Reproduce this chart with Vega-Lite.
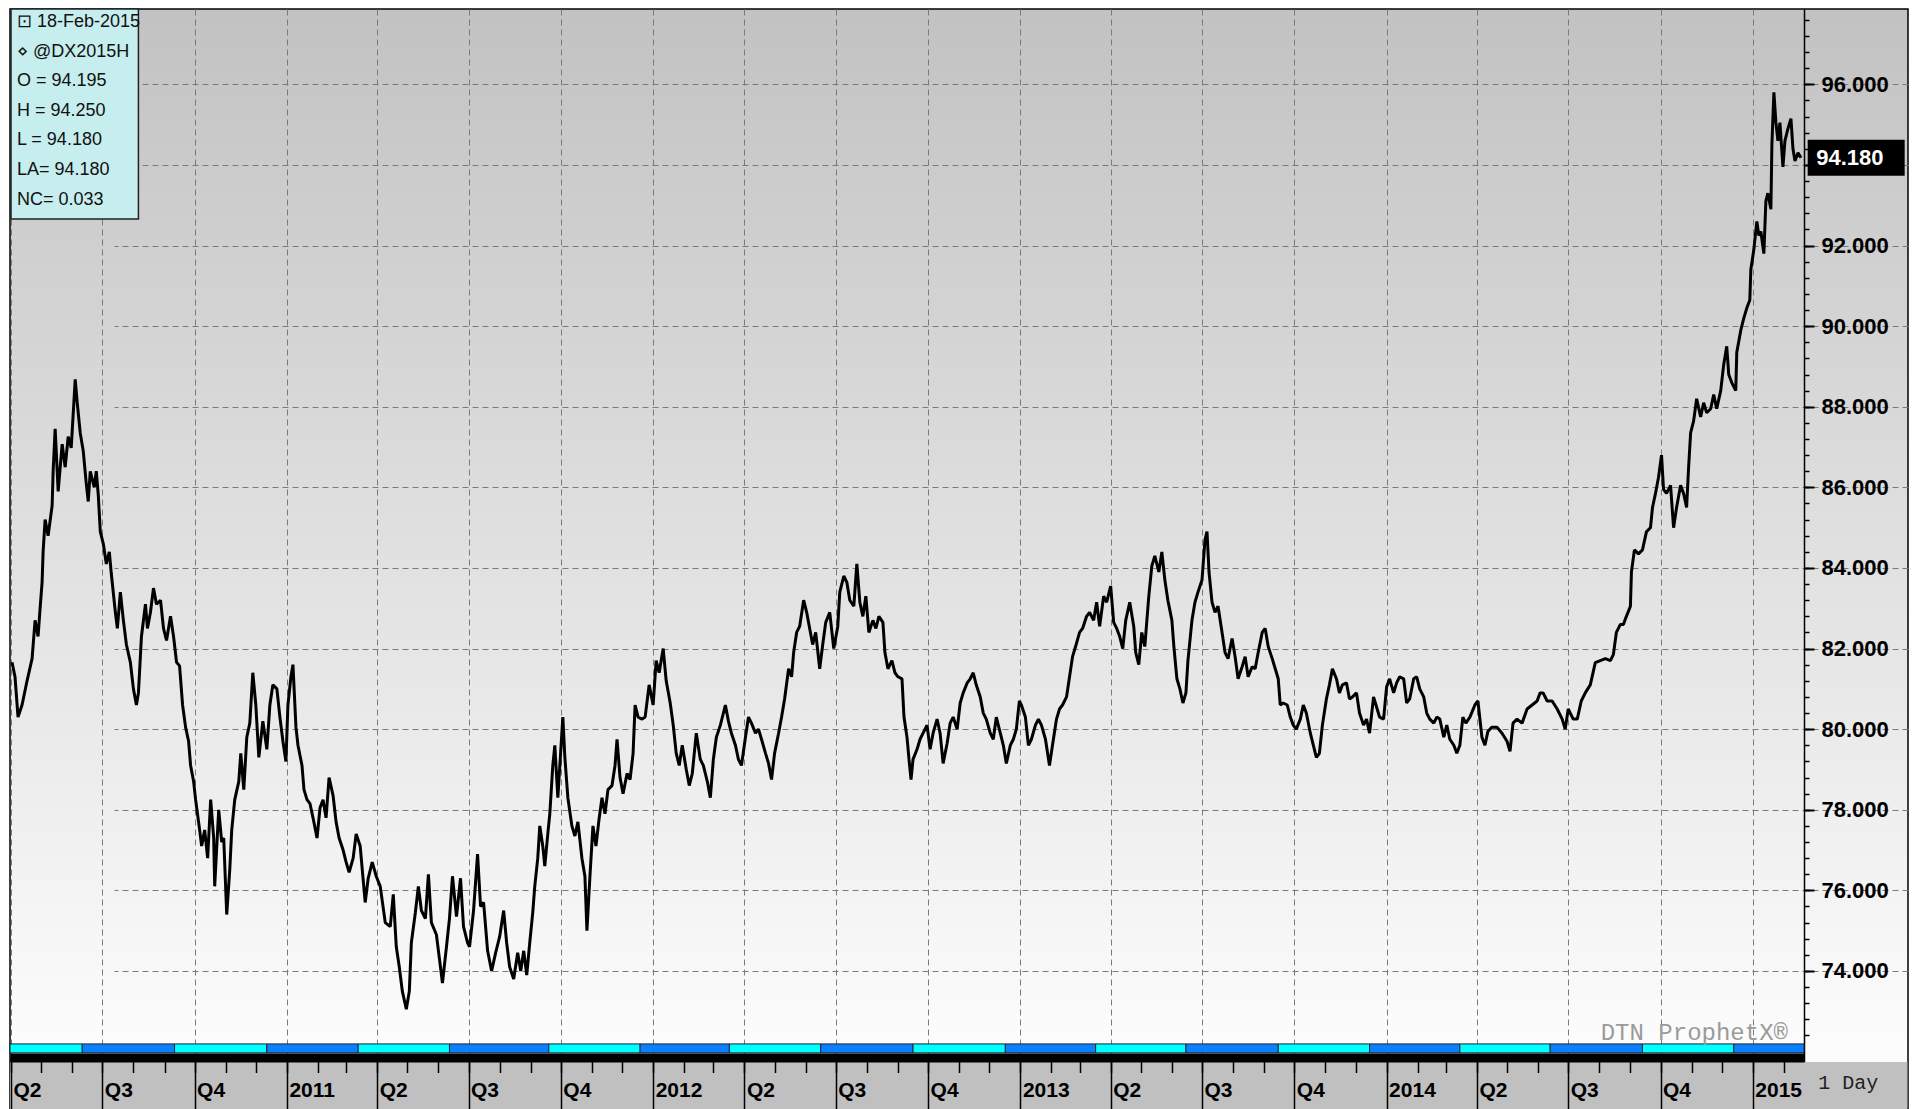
{
  "$schema": "https://vega.github.io/schema/vega-lite/v6.json",
  "background": "white",
  "padding": {"left": 10, "top": 9, "right": 11, "bottom": 0},
  "autosize": {"type": "none"},
  "width": 1898,
  "height": 1100,
  "config": {
    "view": {"stroke": "black", "strokeWidth": 1.5},
    "font": "Liberation Sans, Arial, sans-serif"
  },
  "view": {
    "fill": {"gradient": "linear", "x1": 0, "y1": 0, "x2": 0, "y2": 1, "stops": [{"offset": 0, "color": "#c2c2c2"}, {"offset": 0.94, "color": "#fcfcfc"}, {"offset": 1, "color": "#fcfcfc"}]},
    "stroke": "black",
    "strokeWidth": 1.5
  },
  "datasets": {
    "prices": [
      {"date":"2010-04-02","price":81.66},{"date":"2010-04-05","price":81.3},{"date":"2010-04-08","price":80.3},{"date":"2010-04-12","price":80.6},{"date":"2010-04-17","price":81.2},{"date":"2010-04-22","price":81.75},{"date":"2010-04-25","price":82.7},{"date":"2010-04-28","price":82.3},{"date":"2010-04-30","price":83.0},{"date":"2010-05-02","price":83.65},{"date":"2010-05-03","price":84.4},{"date":"2010-05-05","price":85.2},{"date":"2010-05-08","price":84.8},{"date":"2010-05-12","price":85.55},{"date":"2010-05-13","price":86.4},{"date":"2010-05-15","price":87.45},{"date":"2010-05-18","price":85.9},{"date":"2010-05-22","price":87.07},{"date":"2010-05-25","price":86.5},{"date":"2010-05-28","price":87.26},{"date":"2010-05-31","price":86.98},{"date":"2010-06-04","price":88.68},{"date":"2010-06-06","price":88.1},{"date":"2010-06-09","price":87.35},{"date":"2010-06-12","price":86.9},{"date":"2010-06-15","price":86.1},{"date":"2010-06-17","price":85.65},{"date":"2010-06-19","price":86.4},{"date":"2010-06-23","price":86.0},{"date":"2010-06-25","price":86.4},{"date":"2010-06-27","price":85.8},{"date":"2010-06-29","price":84.9},
      {"date":"2010-07-02","price":84.6},{"date":"2010-07-05","price":84.1},{"date":"2010-07-08","price":84.4},{"date":"2010-07-10","price":83.85},{"date":"2010-07-14","price":82.9},{"date":"2010-07-16","price":82.5},{"date":"2010-07-19","price":83.4},{"date":"2010-07-22","price":82.7},{"date":"2010-07-25","price":82.1},{"date":"2010-07-29","price":81.65},{"date":"2010-08-01","price":81.0},{"date":"2010-08-04","price":80.6},{"date":"2010-08-06","price":80.9},{"date":"2010-08-09","price":82.3},{"date":"2010-08-13","price":83.1},{"date":"2010-08-15","price":82.5},{"date":"2010-08-18","price":82.9},{"date":"2010-08-21","price":83.5},{"date":"2010-08-24","price":83.1},{"date":"2010-08-28","price":83.2},{"date":"2010-08-31","price":82.5},{"date":"2010-09-03","price":82.2},{"date":"2010-09-07","price":82.8},{"date":"2010-09-10","price":82.3},{"date":"2010-09-13","price":81.66},{"date":"2010-09-16","price":81.57},{"date":"2010-09-19","price":80.6},{"date":"2010-09-22","price":80.05},{"date":"2010-09-25","price":79.7},{"date":"2010-09-27","price":79.1},{"date":"2010-09-30","price":78.7},
      {"date":"2010-10-02","price":78.25},{"date":"2010-10-06","price":77.5},{"date":"2010-10-08","price":77.1},{"date":"2010-10-11","price":77.5},{"date":"2010-10-14","price":76.8},{"date":"2010-10-17","price":78.25},{"date":"2010-10-20","price":77.3},{"date":"2010-10-21","price":76.1},{"date":"2010-10-25","price":78.0},{"date":"2010-10-28","price":77.2},{"date":"2010-10-30","price":77.3},{"date":"2010-11-02","price":75.4},{"date":"2010-11-05","price":76.5},{"date":"2010-11-07","price":77.5},{"date":"2010-11-10","price":78.25},{"date":"2010-11-14","price":78.7},{"date":"2010-11-16","price":79.4},{"date":"2010-11-19","price":78.5},{"date":"2010-11-22","price":79.8},{"date":"2010-11-25","price":80.15},{"date":"2010-11-28","price":81.4},{"date":"2010-12-01","price":80.6},{"date":"2010-12-04","price":79.3},{"date":"2010-12-08","price":80.2},{"date":"2010-12-12","price":79.5},{"date":"2010-12-15","price":80.6},{"date":"2010-12-18","price":81.1},{"date":"2010-12-22","price":81.0},{"date":"2010-12-25","price":80.3},{"date":"2010-12-28","price":79.7},{"date":"2010-12-31","price":79.2},
      {"date":"2011-01-02","price":80.6},{"date":"2011-01-05","price":81.3},{"date":"2011-01-07","price":81.6},{"date":"2011-01-10","price":80.05},{"date":"2011-01-12","price":79.6},{"date":"2011-01-16","price":79.1},{"date":"2011-01-18","price":78.5},{"date":"2011-01-21","price":78.25},{"date":"2011-01-24","price":78.15},{"date":"2011-01-27","price":77.8},{"date":"2011-01-31","price":77.3},{"date":"2011-02-03","price":78.05},{"date":"2011-02-06","price":78.25},{"date":"2011-02-09","price":77.8},{"date":"2011-02-12","price":78.8},{"date":"2011-02-16","price":78.35},{"date":"2011-02-19","price":77.7},{"date":"2011-02-22","price":77.3},{"date":"2011-02-26","price":77.0},{"date":"2011-03-01","price":76.7},{"date":"2011-03-04","price":76.45},{"date":"2011-03-08","price":76.8},{"date":"2011-03-11","price":77.4},{"date":"2011-03-15","price":77.1},{"date":"2011-03-20","price":75.7},{"date":"2011-03-23","price":76.3},{"date":"2011-03-27","price":76.7},{"date":"2011-03-31","price":76.35},
      {"date":"2011-04-04","price":76.1},{"date":"2011-04-09","price":75.2},{"date":"2011-04-14","price":75.1},{"date":"2011-04-17","price":75.9},{"date":"2011-04-20","price":74.6},{"date":"2011-04-23","price":74.1},{"date":"2011-04-26","price":73.5},{"date":"2011-04-30","price":73.05},{"date":"2011-05-03","price":73.5},{"date":"2011-05-05","price":74.7},{"date":"2011-05-09","price":75.45},{"date":"2011-05-12","price":76.1},{"date":"2011-05-15","price":75.5},{"date":"2011-05-19","price":75.3},{"date":"2011-05-22","price":76.4},{"date":"2011-05-25","price":75.2},{"date":"2011-05-30","price":74.9},{"date":"2011-06-02","price":74.3},{"date":"2011-06-05","price":73.7},{"date":"2011-06-09","price":74.6},{"date":"2011-06-12","price":75.3},{"date":"2011-06-15","price":76.35},{"date":"2011-06-19","price":75.35},{"date":"2011-06-23","price":76.3},{"date":"2011-06-26","price":75.1},{"date":"2011-06-30","price":74.7},
      {"date":"2011-07-02","price":74.6},{"date":"2011-07-06","price":75.5},{"date":"2011-07-10","price":76.9},{"date":"2011-07-13","price":75.6},{"date":"2011-07-16","price":75.7},{"date":"2011-07-20","price":74.5},{"date":"2011-07-24","price":74.0},{"date":"2011-07-28","price":74.45},{"date":"2011-08-01","price":74.85},{"date":"2011-08-05","price":75.5},{"date":"2011-08-08","price":74.7},{"date":"2011-08-11","price":74.1},{"date":"2011-08-15","price":73.8},{"date":"2011-08-19","price":74.45},{"date":"2011-08-22","price":74.0},{"date":"2011-08-25","price":74.5},{"date":"2011-08-28","price":73.9},{"date":"2011-08-31","price":74.7},{"date":"2011-09-03","price":75.45},{"date":"2011-09-05","price":76.1},{"date":"2011-09-08","price":76.8},{"date":"2011-09-10","price":77.6},{"date":"2011-09-13","price":77.1},{"date":"2011-09-15","price":76.6},{"date":"2011-09-18","price":77.4},{"date":"2011-09-20","price":77.9},{"date":"2011-09-23","price":79.1},{"date":"2011-09-25","price":79.6},{"date":"2011-09-28","price":78.3},{"date":"2011-09-30","price":79.1},
      {"date":"2011-10-03","price":80.3},{"date":"2011-10-05","price":79.3},{"date":"2011-10-08","price":78.3},{"date":"2011-10-12","price":77.6},{"date":"2011-10-15","price":77.35},{"date":"2011-10-18","price":77.7},{"date":"2011-10-22","price":76.8},{"date":"2011-10-25","price":76.35},{"date":"2011-10-27","price":75.0},{"date":"2011-10-30","price":76.35},{"date":"2011-11-02","price":77.6},{"date":"2011-11-05","price":77.1},{"date":"2011-11-08","price":77.75},{"date":"2011-11-11","price":78.3},{"date":"2011-11-14","price":77.9},{"date":"2011-11-17","price":78.5},{"date":"2011-11-21","price":78.6},{"date":"2011-11-24","price":79.1},{"date":"2011-11-26","price":79.75},{"date":"2011-11-29","price":78.8},{"date":"2011-12-02","price":78.4},{"date":"2011-12-06","price":78.9},{"date":"2011-12-09","price":78.75},{"date":"2011-12-12","price":79.4},{"date":"2011-12-14","price":80.6},{"date":"2011-12-17","price":80.3},{"date":"2011-12-21","price":80.25},{"date":"2011-12-24","price":80.3},{"date":"2011-12-28","price":81.1},
      {"date":"2012-01-01","price":80.6},{"date":"2012-01-04","price":81.7},{"date":"2012-01-07","price":81.4},{"date":"2012-01-11","price":82.0},{"date":"2012-01-14","price":81.2},{"date":"2012-01-18","price":80.65},{"date":"2012-01-21","price":80.1},{"date":"2012-01-24","price":79.4},{"date":"2012-01-27","price":79.1},{"date":"2012-01-30","price":79.6},{"date":"2012-02-03","price":79.0},{"date":"2012-02-06","price":78.6},{"date":"2012-02-09","price":78.9},{"date":"2012-02-13","price":79.9},{"date":"2012-02-17","price":79.25},{"date":"2012-02-20","price":79.1},{"date":"2012-02-24","price":78.7},{"date":"2012-02-27","price":78.3},{"date":"2012-03-01","price":79.25},{"date":"2012-03-04","price":79.8},{"date":"2012-03-08","price":80.1},{"date":"2012-03-13","price":80.6},{"date":"2012-03-16","price":80.2},{"date":"2012-03-19","price":79.9},{"date":"2012-03-23","price":79.6},{"date":"2012-03-26","price":79.25},{"date":"2012-03-29","price":79.1},
      {"date":"2012-04-02","price":79.8},{"date":"2012-04-05","price":80.3},{"date":"2012-04-08","price":80.15},{"date":"2012-04-12","price":79.9},{"date":"2012-04-15","price":80.0},{"date":"2012-04-18","price":79.75},{"date":"2012-04-22","price":79.4},{"date":"2012-04-25","price":79.15},{"date":"2012-04-28","price":78.75},{"date":"2012-05-01","price":79.4},{"date":"2012-05-05","price":79.9},{"date":"2012-05-08","price":80.3},{"date":"2012-05-11","price":80.75},{"date":"2012-05-15","price":81.5},{"date":"2012-05-18","price":81.3},{"date":"2012-05-20","price":81.9},{"date":"2012-05-23","price":82.4},{"date":"2012-05-26","price":82.55},{"date":"2012-05-30","price":83.2},{"date":"2012-06-02","price":82.9},{"date":"2012-06-05","price":82.5},{"date":"2012-06-08","price":82.1},{"date":"2012-06-11","price":82.4},{"date":"2012-06-15","price":81.5},{"date":"2012-06-18","price":82.1},{"date":"2012-06-21","price":82.65},{"date":"2012-06-25","price":82.9},{"date":"2012-06-29","price":82.0},
      {"date":"2012-07-03","price":82.55},{"date":"2012-07-05","price":83.4},{"date":"2012-07-09","price":83.8},{"date":"2012-07-12","price":83.65},{"date":"2012-07-15","price":83.2},{"date":"2012-07-19","price":83.05},{"date":"2012-07-22","price":84.1},{"date":"2012-07-25","price":83.15},{"date":"2012-07-28","price":82.8},{"date":"2012-07-31","price":83.3},{"date":"2012-08-03","price":82.4},{"date":"2012-08-07","price":82.7},{"date":"2012-08-10","price":82.5},{"date":"2012-08-13","price":82.8},{"date":"2012-08-17","price":82.65},{"date":"2012-08-19","price":81.9},{"date":"2012-08-22","price":81.5},{"date":"2012-08-26","price":81.7},{"date":"2012-08-29","price":81.4},{"date":"2012-09-01","price":81.3},{"date":"2012-09-05","price":81.25},{"date":"2012-09-07","price":80.3},{"date":"2012-09-10","price":79.8},{"date":"2012-09-12","price":79.25},{"date":"2012-09-14","price":78.75},{"date":"2012-09-16","price":79.25},{"date":"2012-09-20","price":79.5},{"date":"2012-09-23","price":79.75},{"date":"2012-09-26","price":79.9},{"date":"2012-09-30","price":80.1},
      {"date":"2012-10-03","price":79.5},{"date":"2012-10-06","price":79.9},{"date":"2012-10-10","price":80.25},{"date":"2012-10-13","price":79.9},{"date":"2012-10-16","price":79.15},{"date":"2012-10-20","price":79.65},{"date":"2012-10-23","price":80.15},{"date":"2012-10-26","price":80.3},{"date":"2012-10-30","price":80.0},{"date":"2012-11-02","price":80.65},{"date":"2012-11-05","price":80.9},{"date":"2012-11-09","price":81.15},{"date":"2012-11-12","price":81.25},{"date":"2012-11-15","price":81.4},{"date":"2012-11-18","price":81.1},{"date":"2012-11-22","price":80.8},{"date":"2012-11-25","price":80.4},{"date":"2012-11-28","price":80.25},{"date":"2012-12-02","price":79.9},{"date":"2012-12-05","price":79.75},{"date":"2012-12-08","price":80.3},{"date":"2012-12-12","price":79.9},{"date":"2012-12-15","price":79.6},{"date":"2012-12-18","price":79.15},{"date":"2012-12-22","price":79.6},{"date":"2012-12-25","price":79.75},{"date":"2012-12-28","price":80.0},{"date":"2012-12-31","price":80.7},
      {"date":"2013-01-02","price":80.6},{"date":"2013-01-06","price":80.3},{"date":"2013-01-09","price":79.6},{"date":"2013-01-12","price":79.75},{"date":"2013-01-16","price":80.1},{"date":"2013-01-19","price":80.25},{"date":"2013-01-22","price":80.1},{"date":"2013-01-26","price":79.75},{"date":"2013-01-30","price":79.1},{"date":"2013-02-02","price":79.6},{"date":"2013-02-06","price":80.25},{"date":"2013-02-09","price":80.5},{"date":"2013-02-12","price":80.6},{"date":"2013-02-16","price":80.8},{"date":"2013-02-19","price":81.3},{"date":"2013-02-22","price":81.8},{"date":"2013-02-25","price":82.05},{"date":"2013-03-01","price":82.4},{"date":"2013-03-04","price":82.5},{"date":"2013-03-08","price":82.8},{"date":"2013-03-11","price":82.9},{"date":"2013-03-15","price":82.7},{"date":"2013-03-18","price":83.15},{"date":"2013-03-21","price":82.55},{"date":"2013-03-25","price":83.3},{"date":"2013-03-28","price":83.15},
      {"date":"2013-04-01","price":83.55},{"date":"2013-04-04","price":82.65},{"date":"2013-04-07","price":82.5},{"date":"2013-04-10","price":82.3},{"date":"2013-04-13","price":82.0},{"date":"2013-04-16","price":82.7},{"date":"2013-04-20","price":83.15},{"date":"2013-04-24","price":82.55},{"date":"2013-04-26","price":81.9},{"date":"2013-04-29","price":81.6},{"date":"2013-05-02","price":82.4},{"date":"2013-05-05","price":82.05},{"date":"2013-05-09","price":83.3},{"date":"2013-05-12","price":84.05},{"date":"2013-05-15","price":84.3},{"date":"2013-05-19","price":83.9},{"date":"2013-05-22","price":84.4},{"date":"2013-05-25","price":83.7},{"date":"2013-05-28","price":83.2},{"date":"2013-06-01","price":82.7},{"date":"2013-06-03","price":82.05},{"date":"2013-06-06","price":81.25},{"date":"2013-06-09","price":81.0},{"date":"2013-06-12","price":80.65},{"date":"2013-06-15","price":80.9},{"date":"2013-06-17","price":81.7},{"date":"2013-06-21","price":82.7},{"date":"2013-06-24","price":83.15},{"date":"2013-06-27","price":83.4},
      {"date":"2013-07-01","price":83.7},{"date":"2013-07-04","price":84.7},{"date":"2013-07-06","price":84.9},{"date":"2013-07-08","price":83.9},{"date":"2013-07-11","price":83.15},{"date":"2013-07-14","price":82.9},{"date":"2013-07-17","price":83.05},{"date":"2013-07-21","price":82.4},{"date":"2013-07-24","price":81.9},{"date":"2013-07-27","price":81.75},{"date":"2013-07-31","price":82.25},{"date":"2013-08-03","price":81.8},{"date":"2013-08-06","price":81.25},{"date":"2013-08-10","price":81.55},{"date":"2013-08-13","price":81.8},{"date":"2013-08-16","price":81.3},{"date":"2013-08-20","price":81.55},{"date":"2013-08-23","price":81.5},{"date":"2013-08-26","price":81.9},{"date":"2013-08-30","price":82.4},{"date":"2013-09-02","price":82.5},{"date":"2013-09-05","price":82.05},{"date":"2013-09-09","price":81.75},{"date":"2013-09-12","price":81.5},{"date":"2013-09-15","price":81.25},{"date":"2013-09-17","price":80.6},{"date":"2013-09-20","price":80.65},{"date":"2013-09-24","price":80.6},{"date":"2013-09-27","price":80.3},{"date":"2013-09-30","price":80.1},
      {"date":"2013-10-03","price":80.0},{"date":"2013-10-07","price":80.25},{"date":"2013-10-10","price":80.6},{"date":"2013-10-13","price":80.4},{"date":"2013-10-17","price":79.9},{"date":"2013-10-20","price":79.6},{"date":"2013-10-23","price":79.3},{"date":"2013-10-26","price":79.4},{"date":"2013-10-29","price":80.1},{"date":"2013-11-02","price":80.75},{"date":"2013-11-05","price":81.1},{"date":"2013-11-08","price":81.5},{"date":"2013-11-12","price":81.25},{"date":"2013-11-15","price":80.9},{"date":"2013-11-18","price":81.1},{"date":"2013-11-22","price":81.15},{"date":"2013-11-25","price":80.75},{"date":"2013-11-28","price":80.8},{"date":"2013-12-02","price":80.9},{"date":"2013-12-05","price":80.4},{"date":"2013-12-09","price":80.1},{"date":"2013-12-12","price":80.25},{"date":"2013-12-15","price":79.9},{"date":"2013-12-19","price":80.8},{"date":"2013-12-22","price":80.55},{"date":"2013-12-25","price":80.3},{"date":"2013-12-29","price":80.25},
      {"date":"2014-01-01","price":81.05},{"date":"2014-01-04","price":81.25},{"date":"2014-01-08","price":80.9},{"date":"2014-01-11","price":81.15},{"date":"2014-01-14","price":81.3},{"date":"2014-01-18","price":81.25},{"date":"2014-01-21","price":80.65},{"date":"2014-01-24","price":80.75},{"date":"2014-01-28","price":81.25},{"date":"2014-01-31","price":81.3},{"date":"2014-02-03","price":81.0},{"date":"2014-02-07","price":80.8},{"date":"2014-02-10","price":80.4},{"date":"2014-02-13","price":80.25},{"date":"2014-02-17","price":80.15},{"date":"2014-02-20","price":80.3},{"date":"2014-02-23","price":80.25},{"date":"2014-02-27","price":79.8},{"date":"2014-03-02","price":80.1},{"date":"2014-03-05","price":79.75},{"date":"2014-03-09","price":79.6},{"date":"2014-03-12","price":79.4},{"date":"2014-03-15","price":79.6},{"date":"2014-03-18","price":80.3},{"date":"2014-03-21","price":80.15},{"date":"2014-03-25","price":80.3},{"date":"2014-03-30","price":80.6},
      {"date":"2014-04-02","price":80.7},{"date":"2014-04-06","price":79.8},{"date":"2014-04-09","price":79.6},{"date":"2014-04-12","price":79.95},{"date":"2014-04-16","price":80.05},{"date":"2014-04-21","price":80.05},{"date":"2014-04-26","price":79.9},{"date":"2014-05-01","price":79.7},{"date":"2014-05-04","price":79.45},{"date":"2014-05-07","price":80.15},{"date":"2014-05-11","price":80.25},{"date":"2014-05-16","price":80.15},{"date":"2014-05-21","price":80.5},{"date":"2014-05-26","price":80.6},{"date":"2014-05-31","price":80.7},{"date":"2014-06-03","price":80.9},{"date":"2014-06-06","price":80.9},{"date":"2014-06-10","price":80.7},{"date":"2014-06-15","price":80.7},{"date":"2014-06-20","price":80.5},{"date":"2014-06-25","price":80.25},{"date":"2014-06-28","price":80.0},
      {"date":"2014-07-01","price":80.5},{"date":"2014-07-06","price":80.25},{"date":"2014-07-10","price":80.25},{"date":"2014-07-14","price":80.7},{"date":"2014-07-18","price":80.9},{"date":"2014-07-23","price":81.1},{"date":"2014-07-28","price":81.65},{"date":"2014-08-02","price":81.7},{"date":"2014-08-07","price":81.75},{"date":"2014-08-12","price":81.7},{"date":"2014-08-15","price":81.85},{"date":"2014-08-18","price":82.4},{"date":"2014-08-22","price":82.6},{"date":"2014-08-25","price":82.6},{"date":"2014-08-28","price":82.8},{"date":"2014-09-01","price":83.05},{"date":"2014-09-02","price":83.9},{"date":"2014-09-05","price":84.45},{"date":"2014-09-09","price":84.35},{"date":"2014-09-13","price":84.45},{"date":"2014-09-17","price":84.9},{"date":"2014-09-21","price":85.0},{"date":"2014-09-23","price":85.5},{"date":"2014-09-26","price":85.85},{"date":"2014-09-29","price":86.25},
      {"date":"2014-10-02","price":86.8},{"date":"2014-10-04","price":85.95},{"date":"2014-10-07","price":85.85},{"date":"2014-10-11","price":86.05},{"date":"2014-10-14","price":85.0},{"date":"2014-10-17","price":85.5},{"date":"2014-10-21","price":86.05},{"date":"2014-10-24","price":85.85},{"date":"2014-10-27","price":85.5},{"date":"2014-10-29","price":86.5},{"date":"2014-10-31","price":87.35},{"date":"2014-11-03","price":87.65},{"date":"2014-11-06","price":88.2},{"date":"2014-11-10","price":87.75},{"date":"2014-11-13","price":88.1},{"date":"2014-11-16","price":87.85},{"date":"2014-11-20","price":87.95},{"date":"2014-11-23","price":88.3},{"date":"2014-11-26","price":87.95},{"date":"2014-11-30","price":88.4},{"date":"2014-12-03","price":89.05},{"date":"2014-12-06","price":89.5},{"date":"2014-12-08","price":88.8},{"date":"2014-12-11","price":88.6},{"date":"2014-12-15","price":88.4},{"date":"2014-12-16","price":89.35},{"date":"2014-12-20","price":89.9},{"date":"2014-12-23","price":90.2},{"date":"2014-12-26","price":90.45},{"date":"2014-12-29","price":90.65},{"date":"2014-12-30","price":91.4},
      {"date":"2015-01-02","price":91.9},{"date":"2015-01-05","price":92.6},{"date":"2015-01-07","price":92.25},{"date":"2015-01-09","price":92.35},{"date":"2015-01-12","price":91.8},{"date":"2015-01-14","price":93.1},{"date":"2015-01-16","price":93.3},{"date":"2015-01-19","price":92.9},{"date":"2015-01-20","price":94.5},{"date":"2015-01-22","price":95.8},{"date":"2015-01-24","price":95.05},{"date":"2015-01-26","price":94.6},{"date":"2015-01-28","price":95.05},{"date":"2015-01-31","price":93.95},{"date":"2015-02-02","price":94.6},{"date":"2015-02-05","price":94.9},{"date":"2015-02-08","price":95.15},{"date":"2015-02-10","price":94.4},{"date":"2015-02-12","price":94.1},{"date":"2015-02-15","price":94.3},{"date":"2015-02-18","price":94.18}
    ],
    "contracts": [
      {"contract":"DXM10","month":"M","start":"2010-03-31","end":"2010-06-11"},
      {"contract":"DXU10","month":"U","start":"2010-06-11","end":"2010-09-11"},
      {"contract":"DXZ10","month":"Z","start":"2010-09-11","end":"2010-12-12"},
      {"contract":"DXH11","month":"H","start":"2010-12-12","end":"2011-03-13"},
      {"contract":"DXM11","month":"M","start":"2011-03-13","end":"2011-06-12"},
      {"contract":"DXU11","month":"U","start":"2011-06-12","end":"2011-09-19"},
      {"contract":"DXZ11","month":"Z","start":"2011-09-19","end":"2011-12-19"},
      {"contract":"DXH12","month":"H","start":"2011-12-19","end":"2012-03-17"},
      {"contract":"DXM12","month":"M","start":"2012-03-17","end":"2012-06-16"},
      {"contract":"DXU12","month":"U","start":"2012-06-16","end":"2012-09-16"},
      {"contract":"DXZ12","month":"Z","start":"2012-09-16","end":"2012-12-17"},
      {"contract":"DXH13","month":"H","start":"2012-12-17","end":"2013-03-17"},
      {"contract":"DXM13","month":"M","start":"2013-03-17","end":"2013-06-15"},
      {"contract":"DXU13","month":"U","start":"2013-06-15","end":"2013-09-15"},
      {"contract":"DXZ13","month":"Z","start":"2013-09-15","end":"2013-12-15"},
      {"contract":"DXH14","month":"H","start":"2013-12-15","end":"2014-03-15"},
      {"contract":"DXM14","month":"M","start":"2014-03-15","end":"2014-06-13"},
      {"contract":"DXU14","month":"U","start":"2014-06-13","end":"2014-09-13"},
      {"contract":"DXZ14","month":"Z","start":"2014-09-13","end":"2014-12-13"},
      {"contract":"DXH15","month":"H","start":"2014-12-13","end":"2015-02-21"}
    ]
  },
  "layer": [
    {
      "data": {"values": [{"period": "1 Day"}]},
      "mark": {"type": "rect", "fill": "#c0c0c0"},
      "encoding": {
        "x": {
          "datum": {"year": 2010, "month": 3, "date": 31, "utc": true}, "type": "temporal", "title": null,
          "scale": {"type": "utc", "domain": [{"year": 2010, "month": 3, "date": 31, "utc": true}, {"year": 2015, "month": 2, "date": 21, "utc": true}], "range": [0, 1794]},
          "axis": {"orient": "bottom", "offset": -51.5, "zindex": 1, "tickCount": {"interval": "month", "step": 3}, "domain": false, "labels": false, "ticks": true, "tickSize": 52, "tickColor": "black", "tickWidth": 1.5, "grid": false, "title": null}
        },
        "x2": {"datum": {"year": 2015, "month": 6, "date": 4, "utc": true}},
        "y": {
          "datum": 71.744, "type": "quantitative", "title": null,
          "scale": {"domain": [70.575, 97.87], "nice": false, "zero": false},
          "axis": null
        },
        "y2": {"datum": 70.575}
      }
    },
    {
      "data": {"name": "prices"},
      "mark": {"type": "line", "color": "black", "strokeWidth": 3, "strokeJoin": "bevel"},
      "encoding": {
        "x": {
          "field": "date", "type": "temporal", "title": null,
          "axis": {"orient": "bottom", "tickCount": {"interval": "month", "step": 3}, "labels": false, "ticks": false, "domain": false, "grid": true, "gridColor": "#7a7a7a", "gridDash": [6, 4], "gridWidth": 1, "gridOpacity": 1, "title": null}
        },
        "y": {
          "field": "price", "type": "quantitative", "title": null,
          "axis": {"orient": "right", "offset": -104, "values": [74, 76, 78, 80, 82, 84, 86, 88, 90, 92, 94, 96], "labelExpr": "datum.value === 94 ? '' : format(datum.value, '.3f')", "grid": true, "gridColor": "#7a7a7a", "gridDash": [6, 4], "gridWidth": 1, "gridOpacity": 1, "domainColor": "black", "domainWidth": 1.5, "tickColor": "black", "tickSize": 10, "tickWidth": 2, "labelFontSize": 22, "labelFontWeight": "bold", "labelColor": "black", "labelPadding": 7, "labelBaseline": "middle", "labelFont": "Liberation Sans, Arial, sans-serif", "title": null}
        }
      }
    },
    {
      "data": {"name": "contracts"},
      "mark": {"type": "rect", "stroke": "#1a2433", "strokeWidth": 1},
      "encoding": {
        "x": {
          "field": "start", "type": "temporal", "title": null,
          "axis": {
            "orient": "bottom", "offset": -51.5, "zindex": 1, "tickCount": {"interval": "month", "step": 1},
            "domain": true, "domainColor": "black", "domainWidth": 9, "domainCap": "butt",
            "ticks": true, "tickSize": 15, "tickColor": "black", "tickWidth": 1.5, "grid": false,
            "labelExpr": "utcmonth(datum.value) === 0 ? utcFormat(datum.value, '%Y') : (utcmonth(datum.value) % 3 === 0 ? 'Q' + (utcmonth(datum.value) / 3 + 1) : '')",
            "labelAlign": "left", "labelOffset": 2, "labelPadding": 24, "labelBaseline": "alphabetic",
            "labelFontSize": 21, "labelFontWeight": "bold", "labelColor": "black",
            "labelFont": "Liberation Sans, Arial, sans-serif",
            "labelOverlap": false, "labelBound": false, "labelFlush": false, "title": null
          }
        },
        "x2": {"field": "end"},
        "y": {"datum": 72.19, "type": "quantitative", "title": null, "axis": null},
        "y2": {"datum": 71.967},
        "fill": {"field": "month", "type": "nominal", "legend": null,
                 "scale": {"domain": ["M", "U", "Z", "H"], "range": ["#00ffff", "#0a80ff", "#00ffff", "#0a80ff"]}}
      }
    },
    {
      "data": {"name": "prices"},
      "transform": [{"aggregate": [{"op": "argmax", "field": "date", "as": "last"}]}],
      "mark": {"type": "tick", "orient": "horizontal", "color": "black", "size": 97, "thickness": 36, "opacity": 1},
      "encoding": {
        "x": {"datum": {"year": 2015, "month": 4, "date": 14, "utc": true}, "type": "temporal", "title": null, "axis": null},
        "y": {
          "field": "last.price", "type": "quantitative", "title": null,
          "axis": {"orient": "right", "offset": -104, "values": [72.4, 72.8, 73.2, 73.6, 74, 74.4, 74.8, 75.2, 75.6, 76, 76.4, 76.8, 77.2, 77.6, 78, 78.4, 78.8, 79.2, 79.6, 80, 80.4, 80.8, 81.2, 81.6, 82, 82.4, 82.8, 83.2, 83.6, 84, 84.4, 84.8, 85.2, 85.6, 86, 86.4, 86.8, 87.2, 87.6, 88, 88.4, 88.8, 89.2, 89.6, 90, 90.4, 90.8, 91.2, 91.6, 92, 92.4, 92.8, 93.2, 93.6, 94, 94.4, 94.8, 95.2, 95.6, 96, 96.4, 96.8, 97.2, 97.6], "labels": false, "domain": false, "grid": false, "tickSize": 5, "tickColor": "black", "tickWidth": 1.5, "title": null}
        }
      }
    },
    {
      "data": {"name": "prices"},
      "transform": [{"aggregate": [{"op": "argmax", "field": "date", "as": "last"}]}],
      "mark": {"type": "text", "color": "white", "fontSize": 22, "fontWeight": "bold", "align": "left", "baseline": "middle", "dx": -40, "font": "Liberation Sans, Arial, sans-serif"},
      "encoding": {
        "x": {"datum": {"year": 2015, "month": 4, "date": 14, "utc": true}, "type": "temporal", "title": null, "axis": null},
        "y": {"field": "last.price", "type": "quantitative", "title": null, "axis": null},
        "text": {"field": "last.price", "type": "quantitative", "format": ".3f"}
      }
    },
    {
      "data": {"values": [{"source": "DTN ProphetX®"}]},
      "mark": {"type": "text", "color": "#9a9a9a", "fontSize": 24, "align": "right", "baseline": "alphabetic", "font": "Liberation Mono, DejaVu Sans Mono, monospace"},
      "encoding": {
        "x": {"datum": {"year": 2015, "month": 2, "date": 5, "utc": true}, "type": "temporal", "title": null, "axis": null},
        "y": {"datum": 72.29, "type": "quantitative", "title": null, "axis": null},
        "text": {"field": "source", "type": "nominal"}
      }
    },
    {
      "data": {"values": [{"period": "1 Day"}]},
      "mark": {"type": "text", "color": "#222222", "fontSize": 20, "align": "center", "baseline": "middle", "font": "Liberation Mono, DejaVu Sans Mono, monospace"},
      "encoding": {
        "x": {"datum": {"year": 2015, "month": 4, "date": 6, "utc": true}, "type": "temporal", "title": null, "axis": null},
        "y": {"datum": 71.22, "type": "quantitative", "title": null, "axis": null},
        "text": {"field": "period", "type": "nominal"}
      }
    },
    {
      "data": {"values": [{"info": ["⊡ 18-Feb-2015", "⋄ @DX2015H", "O = 94.195", "H = 94.250", "L = 94.180", "LA= 94.180", "NC= 0.033"]}]},
      "mark": {"type": "rect", "fill": "#c6eeee", "stroke": "#222222", "strokeWidth": 1.5},
      "encoding": {
        "x": {"datum": {"year": 2010, "month": 4, "date": 1, "utc": true}, "type": "temporal", "title": null, "axis": null},
        "x2": {"datum": {"year": 2010, "month": 8, "date": 6, "utc": true}},
        "y": {"datum": 97.87, "type": "quantitative", "title": null, "axis": null},
        "y2": {"datum": 92.66}
      }
    },
    {
      "data": {"values": [{"info": ["⊡ 18-Feb-2015", "⋄ @DX2015H", "O = 94.195", "H = 94.250", "L = 94.180", "LA= 94.180", "NC= 0.033"]}]},
      "mark": {"type": "text", "color": "#111111", "fontSize": 18, "align": "left", "baseline": "top", "lineHeight": 29.6, "dx": 7, "dy": 4, "font": "Liberation Sans, Arial, sans-serif"},
      "encoding": {
        "x": {"datum": {"year": 2010, "month": 3, "date": 31, "utc": true}, "type": "temporal", "title": null, "axis": null},
        "y": {"datum": 97.87, "type": "quantitative", "title": null, "axis": null},
        "text": {"field": "info", "type": "nominal"}
      }
    }
  ],
  "resolve": {"axis": {"x": "independent", "y": "independent"}}
}
